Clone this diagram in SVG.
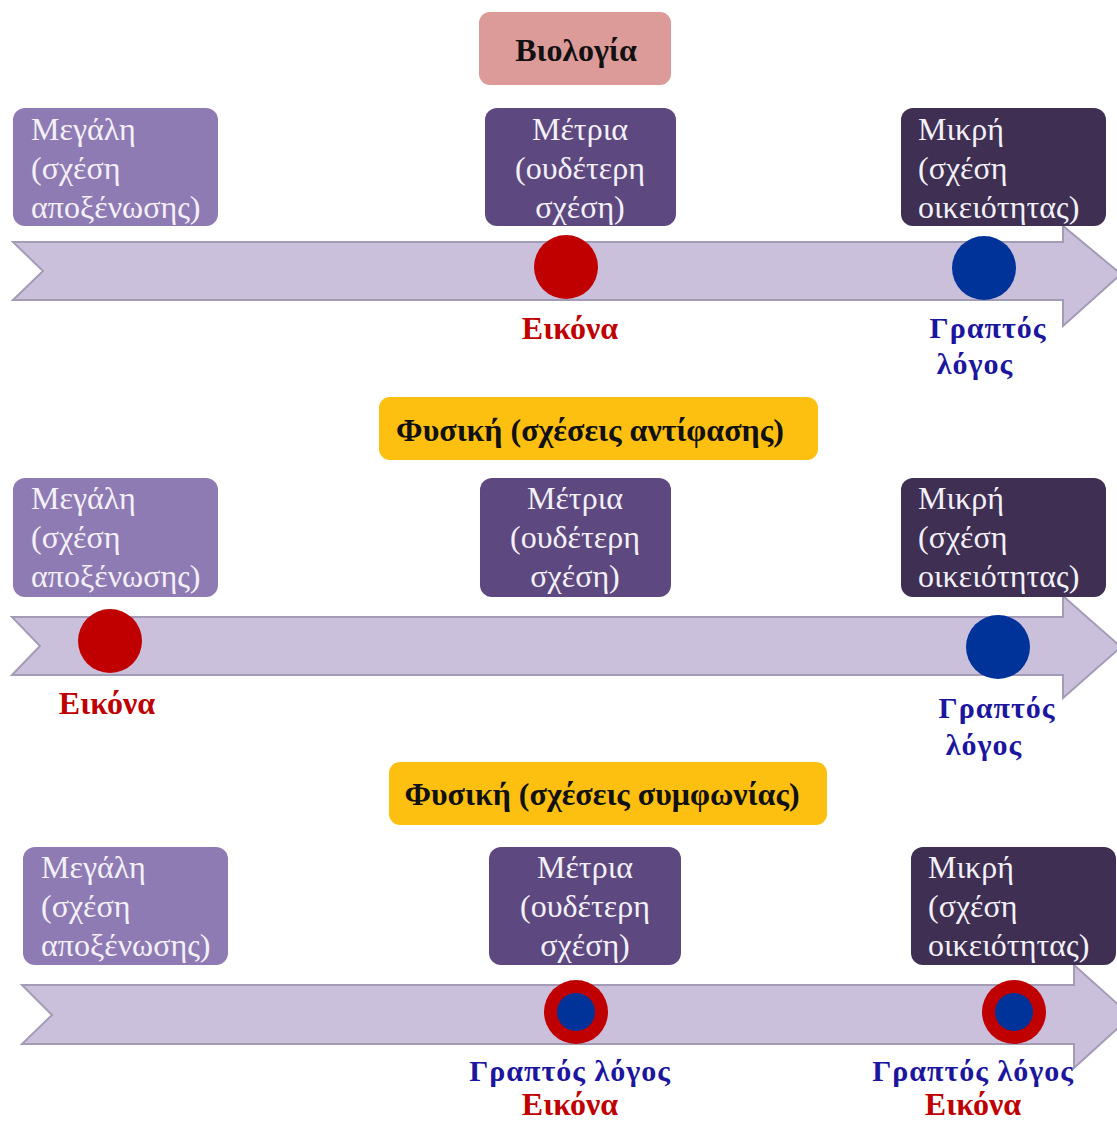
<svg xmlns="http://www.w3.org/2000/svg" width="1117" height="1121" viewBox="0 0 1117 1121">
<style>
.bg{fill:#ffffff}
.title{font-family:"Liberation Serif","Times New Roman",serif;font-weight:bold;font-size:32px;fill:#111111;text-anchor:middle}
.box{font-family:"Liberation Serif","Times New Roman",serif;font-size:32px;fill:#f3f1f7}
.mid{text-anchor:middle}
.arrow{fill:#cbc0dc;stroke:#a49bb6;stroke-width:2}
.light{fill:#8f7bb4}
.medium{fill:#5d4980}
.dark{fill:#3e2f53}
.pink{fill:#dc9a99}
.yellow{fill:#fdc010}
.red{fill:#c00000}
.blue{fill:#003399}
.lblred{font-family:"Liberation Serif","Times New Roman",serif;font-weight:bold;font-size:32px;fill:#c00000;text-anchor:middle}
.lblblue{font-family:"Liberation Serif","Times New Roman",serif;font-weight:bold;font-size:30px;fill:#1c169e;text-anchor:middle;letter-spacing:1px}
</style>
<rect class="bg" x="0" y="0" width="1117" height="1121"/>

<g id="connectors">
  <polygon id="arrow1" class="arrow" points="13,242 1063,242 1063,226 1121,274 1063,326 1063,300 13,300 43,271"/>
  <polygon id="arrow2" class="arrow" points="12,617 1063,617 1063,596 1121,647 1063,698 1063,675 12,675 40,646"/>
  <polygon id="arrow3" class="arrow" points="22,985 1074,985 1074,965 1131,1016 1074,1068 1074,1044 22,1044 52,1015"/>
</g>

<!-- Row 1 -->
<g id="title-biologia">
  <rect class="pink" x="479" y="12" width="192" height="73" rx="11"/>
  <text class="title" x="576" y="61">Βιολογία</text>
</g>
<g id="r1-megali">
  <rect class="light" x="13" y="108" width="205" height="118" rx="12"/>
  <text class="box" x="31" y="140">Μεγάλη</text>
  <text class="box" x="31" y="179">(σχέση</text>
  <text class="box" x="31" y="218">αποξένωσης)</text>
</g>
<g id="r1-metria">
  <rect class="medium" x="485" y="108" width="191" height="118" rx="12"/>
  <text class="box mid" x="580" y="140">Μέτρια</text>
  <text class="box mid" x="580" y="179">(ουδέτερη</text>
  <text class="box mid" x="580" y="218">σχέση)</text>
</g>
<g id="r1-mikri">
  <rect class="dark" x="901" y="108" width="205" height="118" rx="12"/>
  <text class="box" x="918" y="140">Μικρή</text>
  <text class="box" x="918" y="179">(σχέση</text>
  <text class="box" x="918" y="218">οικειότητας)</text>
</g>
<g id="r1-eikona">
  <circle class="red" cx="566" cy="267" r="32"/>
  <text class="lblred" x="570" y="339">Εικόνα</text>
</g>
<g id="r1-graptos">
  <circle class="blue" cx="984" cy="268" r="32"/>
  <text class="lblblue" x="988" y="338">Γραπτός</text>
  <text class="lblblue" x="975" y="374">λόγος</text>
</g>

<!-- Row 2 -->
<g id="title-fysiki-antifasi">
  <rect class="yellow" x="379" y="397" width="439" height="63" rx="11"/>
  <text class="title" x="590" y="441">Φυσική (σχέσεις αντίφασης)</text>
</g>
<g id="r2-megali">
  <rect class="light" x="13" y="478" width="205" height="119" rx="12"/>
  <text class="box" x="31" y="509">Μεγάλη</text>
  <text class="box" x="31" y="548">(σχέση</text>
  <text class="box" x="31" y="587">αποξένωσης)</text>
</g>
<g id="r2-metria">
  <rect class="medium" x="480" y="478" width="191" height="119" rx="12"/>
  <text class="box mid" x="575" y="509">Μέτρια</text>
  <text class="box mid" x="575" y="548">(ουδέτερη</text>
  <text class="box mid" x="575" y="587">σχέση)</text>
</g>
<g id="r2-mikri">
  <rect class="dark" x="901" y="478" width="205" height="119" rx="12"/>
  <text class="box" x="918" y="509">Μικρή</text>
  <text class="box" x="918" y="548">(σχέση</text>
  <text class="box" x="918" y="587">οικειότητας)</text>
</g>
<g id="r2-eikona">
  <circle class="red" cx="110" cy="641" r="32"/>
  <text class="lblred" x="107" y="714">Εικόνα</text>
</g>
<g id="r2-graptos">
  <circle class="blue" cx="998" cy="647" r="32"/>
  <text class="lblblue" x="997" y="718">Γραπτός</text>
  <text class="lblblue" x="984" y="755">λόγος</text>
</g>

<!-- Row 3 -->
<g id="title-fysiki-symfonia">
  <rect class="yellow" x="389" y="762" width="438" height="63" rx="11"/>
  <text class="title" x="602" y="805">Φυσική (σχέσεις συμφωνίας)</text>
</g>
<g id="r3-megali">
  <rect class="light" x="23" y="847" width="205" height="118" rx="12"/>
  <text class="box" x="41" y="878">Μεγάλη</text>
  <text class="box" x="41" y="917">(σχέση</text>
  <text class="box" x="41" y="956">αποξένωσης)</text>
</g>
<g id="r3-metria">
  <rect class="medium" x="489" y="847" width="192" height="118" rx="12"/>
  <text class="box mid" x="585" y="878">Μέτρια</text>
  <text class="box mid" x="585" y="917">(ουδέτερη</text>
  <text class="box mid" x="585" y="956">σχέση)</text>
</g>
<g id="r3-mikri">
  <rect class="dark" x="911" y="847" width="205" height="118" rx="12"/>
  <text class="box" x="928" y="878">Μικρή</text>
  <text class="box" x="928" y="917">(σχέση</text>
  <text class="box" x="928" y="956">οικειότητας)</text>
</g>
<g id="r3-both-mid">
  <circle class="red" cx="576" cy="1012" r="32"/>
  <circle class="blue" cx="576" cy="1012" r="19"/>
  <text class="lblblue" x="570" y="1081">Γραπτός λόγος</text>
  <text class="lblred" x="570" y="1115">Εικόνα</text>
</g>
<g id="r3-both-right">
  <circle class="red" cx="1014" cy="1012" r="32"/>
  <circle class="blue" cx="1014" cy="1012" r="19"/>
  <text class="lblblue" x="973" y="1081">Γραπτός λόγος</text>
  <text class="lblred" x="973" y="1115">Εικόνα</text>
</g>
</svg>
